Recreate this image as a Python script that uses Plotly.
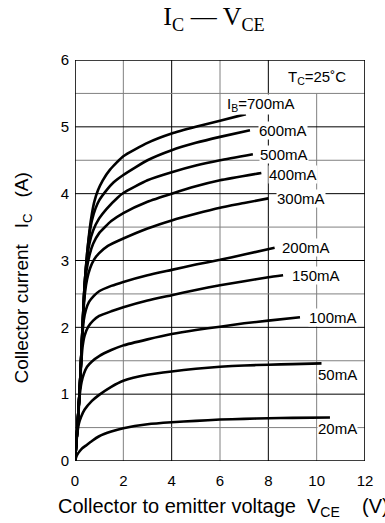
import plotly.graph_objects as go

# ---- data ----
x_ticks = [0, 2, 4, 6, 8, 10, 12]
y_ticks = [0, 1, 2, 3, 4, 5, 6]

v_700 = [0, 0.05, 0.1, 0.15, 0.2, 0.25, 0.3, 0.35, 0.4, 0.5, 0.6, 0.7, 0.8, 0.95, 1.15, 1.45, 2, 3, 4, 5, 6, 7.07]
i_700 = [0, 0.25, 0.5, 0.8, 1.1, 1.5, 1.9, 2.3, 2.65, 3.1, 3.45, 3.7, 3.88, 4.05, 4.2, 4.36, 4.56, 4.76, 4.9, 5.0, 5.09, 5.19]

v_600 = [0, 0.05, 0.1, 0.15, 0.2, 0.25, 0.3, 0.35, 0.4, 0.5, 0.6, 0.7, 0.85, 1.0, 1.3, 1.6, 2, 3, 4, 5, 6, 7.24]
i_600 = [0, 0.25, 0.5, 0.8, 1.1, 1.5, 1.9, 2.3, 2.65, 3.1, 3.4, 3.6, 3.78, 3.9, 4.05, 4.17, 4.28, 4.5, 4.65, 4.76, 4.85, 4.95]

v_500 = [0, 0.05, 0.1, 0.15, 0.2, 0.25, 0.3, 0.35, 0.4, 0.5, 0.6, 0.75, 1.0, 1.3, 1.76, 2, 3, 4, 5, 6, 7.36]
i_500 = [0, 0.25, 0.5, 0.8, 1.1, 1.5, 1.9, 2.3, 2.65, 3.03, 3.26, 3.45, 3.63, 3.77, 3.94, 4.01, 4.2, 4.32, 4.42, 4.5, 4.59]

v_400 = [0, 0.05, 0.1, 0.15, 0.2, 0.25, 0.3, 0.35, 0.4, 0.48, 0.6, 0.75, 1.0, 1.5, 2, 3, 4, 5, 6, 7.71]
i_400 = [0, 0.25, 0.5, 0.8, 1.1, 1.5, 1.9, 2.3, 2.6, 2.86, 3.08, 3.25, 3.41, 3.59, 3.71, 3.88, 4.0, 4.11, 4.2, 4.31]

v_300 = [0, 0.05, 0.1, 0.15, 0.2, 0.25, 0.3, 0.35, 0.42, 0.5, 0.62, 0.8, 1.0, 1.36, 2, 3, 4, 5, 6, 7, 8.0]
i_300 = [0, 0.25, 0.5, 0.8, 1.1, 1.5, 1.9, 2.25, 2.54, 2.72, 2.88, 3.02, 3.11, 3.22, 3.33, 3.48, 3.6, 3.7, 3.79, 3.86, 3.93]

v_200 = [0, 0.05, 0.1, 0.15, 0.2, 0.25, 0.3, 0.36, 0.45, 0.58, 0.78, 1.0, 1.5, 2, 3, 4, 5, 6, 7, 8.26]
i_200 = [0, 0.25, 0.5, 0.8, 1.1, 1.5, 1.84, 2.1, 2.26, 2.38, 2.47, 2.54, 2.62, 2.68, 2.78, 2.86, 2.94, 3.01, 3.09, 3.19]

v_150 = [0, 0.05, 0.1, 0.15, 0.2, 0.25, 0.31, 0.4, 0.55, 0.75, 1.0, 1.5, 2, 3, 4, 5, 6, 7, 8, 8.61]
i_150 = [0, 0.25, 0.5, 0.8, 1.1, 1.42, 1.7, 1.88, 2.01, 2.1, 2.17, 2.24, 2.3, 2.4, 2.48, 2.56, 2.63, 2.69, 2.75, 2.78]

v_100 = [0, 0.05, 0.1, 0.15, 0.2, 0.27, 0.37, 0.5, 0.7, 1.0, 1.5, 2, 3, 4, 5, 6, 7, 8, 9.31]
i_100 = [0, 0.25, 0.5, 0.76, 1.0, 1.18, 1.31, 1.41, 1.49, 1.57, 1.66, 1.73, 1.82, 1.9, 1.96, 2.01, 2.06, 2.1, 2.15]

v_50 = [0, 0.05, 0.1, 0.16, 0.25, 0.4, 0.7, 1.0, 1.5, 2, 3, 4, 5, 6, 7, 8, 9, 10.2]
i_50 = [0, 0.24, 0.43, 0.56, 0.66, 0.77, 0.9, 0.99, 1.11, 1.2, 1.29, 1.34, 1.38, 1.41, 1.43, 1.44, 1.45, 1.46]

v_20 = [0, 0.05, 0.1, 0.2, 0.3, 0.45, 0.7, 1.0, 1.5, 2, 3, 4, 5, 6, 7, 8, 9, 10.55]
i_20 = [0, 0.06, 0.1, 0.15, 0.19, 0.23, 0.3, 0.37, 0.44, 0.49, 0.55, 0.58, 0.6, 0.62, 0.63, 0.64, 0.645, 0.65]

curves = [(v_700, i_700), (v_600, i_600), (v_500, i_500), (v_400, i_400), (v_300, i_300),
          (v_200, i_200), (v_150, i_150), (v_100, i_100), (v_50, i_50), (v_20, i_20)]

label_texts = ["I<sub>B</sub>=700mA", "600mA", "500mA", "400mA", "300mA",
               "200mA", "150mA", "100mA", "50mA", "20mA"]
label_v = [7.68, 8.59, 8.65, 9.03, 9.35, 9.56, 9.98, 10.69, 10.87, 10.87]
label_i = [5.33, 4.94, 4.59, 4.29, 3.93, 3.20, 2.78, 2.15, 1.30, 0.48]

FONT = "Liberation Sans, Arial, sans-serif"

fig = go.Figure()
for v, i in curves:
    fig.add_trace(go.Scatter(x=v, y=i, mode="lines",
                             line=dict(color="black", width=2.6, shape="spline", smoothing=0.5),
                             showlegend=False, hoverinfo="skip"))

# grid
shapes = []
for xv in x_ticks[1:-1]:
    col = "black" if xv % 4 == 0 else "#808080"
    ytop = 5.5 if xv == 10 else 6
    shapes.append(dict(type="line", xref="x", yref="y", x0=xv, x1=xv, y0=0, y1=ytop,
                       line=dict(color=col, width=1), layer="below"))
for k in range(1, 12):
    yv = k * 0.5
    col = "black" if k % 2 == 0 else "#808080"
    shapes.append(dict(type="line", xref="x", yref="y", x0=0, x1=12, y0=yv, y1=yv,
                       line=dict(color=col, width=1), layer="below"))
# frame
shapes.append(dict(type="rect", xref="x", yref="y", x0=0, x1=12, y0=0, y1=6,
                   line=dict(color="black", width=1.6), layer="above"))

annotations = []
for t, xv, yv in zip(label_texts, label_v, label_i):
    annotations.append(dict(x=xv, y=yv, xref="x", yref="y", text=t, showarrow=False,
                            font=dict(family=FONT, size=15, color="black"),
                            bgcolor="white", borderpad=0, xanchor="center", yanchor="middle"))
annotations.append(dict(x=10, y=5.74, xref="x", yref="y", text="T<sub>C</sub>=25˚C", showarrow=False,
                        font=dict(family=FONT, size=15, color="black"), xanchor="center", yanchor="middle"))

# axis titles as annotations
annotations.append(dict(x=-0.064, y=-0.117, xref="paper", yref="paper", xanchor="left", yanchor="middle",
                        text="Collector to emitter voltage\u00a0 V<sub>CE</sub>\u00a0\u00a0\u00a0 (V)",
                        showarrow=False, font=dict(family=FONT, size=20, color="black")))
annotations.append(dict(x=-0.18, y=0.457, xref="paper", yref="paper", xanchor="center", yanchor="middle",
                        text="Collector current\u00a0\u00a0 I<sub>C</sub>\u00a0\u00a0 (A)", textangle=-90,
                        showarrow=False, font=dict(family=FONT, size=19, color="black")))

fig.update_layout(
    width=385, height=523,
    margin=dict(l=75, r=13, t=60, b=62),
    paper_bgcolor="white", plot_bgcolor="white",
    title=dict(text="I<sub>C</sub> — V<sub>CE</sub>", x=214 / 385, xanchor="center",
               y=1 - 16 / 523, yanchor="middle",
               font=dict(family="Liberation Serif, Times New Roman, serif", size=26, color="black")),
    xaxis=dict(range=[0, 12], tickvals=x_ticks, showgrid=False, zeroline=False, showline=False,
               ticks="", ticklabelstandoff=9, tickfont=dict(family=FONT, size=15, color="black")),
    yaxis=dict(range=[0, 6], tickvals=y_ticks, showgrid=False, zeroline=False, showline=False,
               ticks="", ticklabelstandoff=5, tickfont=dict(family=FONT, size=15, color="black")),
    shapes=shapes, annotations=annotations,
)

fig.write_html("out.html", post_script="document.body.style.margin='0';",
               config={"displayModeBar": False})
